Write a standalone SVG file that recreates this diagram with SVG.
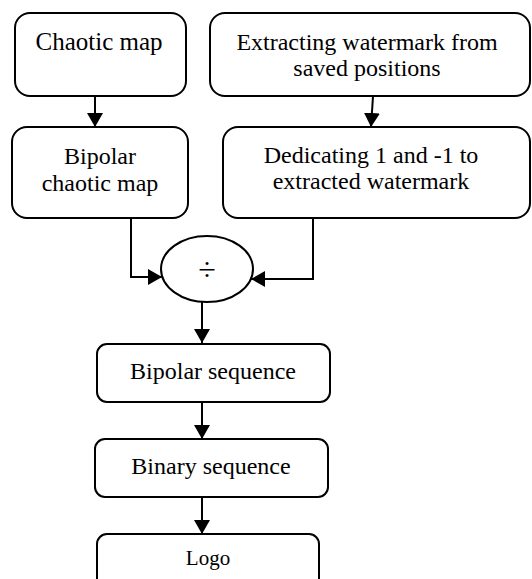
<svg xmlns="http://www.w3.org/2000/svg" width="532" height="579" viewBox="0 0 532 579">
<defs>
<marker id="arr" viewBox="0 0 14 16" refX="14" refY="8" markerWidth="14" markerHeight="16" markerUnits="userSpaceOnUse" orient="auto">
<path d="M0,0 L14,8 L0,16 Z" fill="#000"/>
</marker>
</defs>
<style>
.box{fill:#fff;stroke:#000;stroke-width:2}
.c{fill:none;stroke:#000;stroke-width:2}
</style>
<rect width="532" height="579" fill="#fff"/>
<g id="connectors">
<path class="c" d="M95,96 L95,127" marker-end="url(#arr)"/>
<path class="c" d="M373,96 L371,127" marker-end="url(#arr)"/>
<path class="c" d="M131,218 L131,277 L162,277" marker-end="url(#arr)"/>
<path class="c" d="M313,218 L313,279 L251,279" marker-end="url(#arr)"/>
<path class="c" d="M202,302 L202,343" marker-end="url(#arr)"/>
<path class="c" d="M202,402 L202,439" marker-end="url(#arr)"/>
<path class="c" d="M202,497 L202,534" marker-end="url(#arr)"/>
</g>
<g id="chaotic-map">
<rect class="box" x="15" y="13" width="171" height="83" rx="15"/>
<text x="99" y="50" font-family="Liberation Serif" font-size="25" text-anchor="middle">Chaotic map</text>
</g>
<g id="extracting">
<rect class="box" x="210" y="13" width="320" height="83" rx="15"/>
<text x="367" y="50" font-family="Liberation Serif" font-size="24" text-anchor="middle">Extracting watermark from</text>
<text x="367" y="76" font-family="Liberation Serif" font-size="24" text-anchor="middle">saved positions</text>
</g>
<g id="bipolar-chaotic">
<rect class="box" x="12" y="127" width="176" height="91" rx="15"/>
<text x="100" y="164" font-family="Liberation Serif" font-size="24" text-anchor="middle">Bipolar</text>
<text x="100" y="191" font-family="Liberation Serif" font-size="24" text-anchor="middle">chaotic map</text>
</g>
<g id="dedicating">
<rect class="box" x="223" y="127" width="307" height="91" rx="15"/>
<text x="371" y="163" font-family="Liberation Serif" font-size="24" text-anchor="middle">Dedicating 1 and -1 to</text>
<text x="371" y="189" font-family="Liberation Serif" font-size="24" text-anchor="middle">extracted watermark</text>
</g>
<g id="divide">
<ellipse class="box" cx="207" cy="269" rx="46" ry="33"/>
<text x="207" y="280" font-family="Liberation Serif" font-size="32" text-anchor="middle">÷</text>
</g>
<g id="bipolar-sequence">
<rect class="box" x="97" y="344" width="233" height="58" rx="10"/>
<text x="213" y="379" font-family="Liberation Serif" font-size="24" text-anchor="middle">Bipolar sequence</text>
</g>
<g id="binary-sequence">
<rect class="box" x="95" y="439" width="233" height="58" rx="10"/>
<text x="211" y="474" font-family="Liberation Serif" font-size="24" text-anchor="middle">Binary sequence</text>
</g>
<g id="logo">
<rect class="box" x="97" y="534" width="222" height="58" rx="10"/>
<text x="208" y="565" font-family="Liberation Serif" font-size="21" text-anchor="middle">Logo</text>
</g>
</svg>
